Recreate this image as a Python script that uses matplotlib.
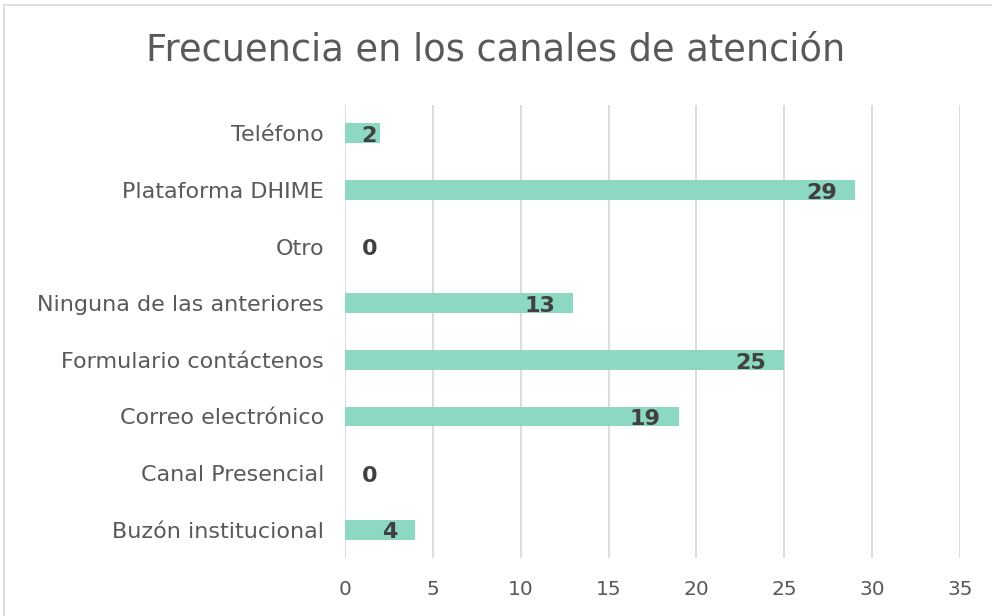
import matplotlib
matplotlib.use("Agg")
import matplotlib.pyplot as plt
from matplotlib.patches import Rectangle

categories = ["Buzón institucional", "Canal Presencial", "Correo electrónico",
              "Formulario contáctenos", "Ninguna de las anteriores", "Otro",
              "Plataforma DHIME", "Teléfono"]
values = [4, 0, 19, 25, 13, 0, 29, 2]
xticks = [0, 5, 10, 15, 20, 25, 30, 35]
title = "Frecuencia en los canales de atención"

plt.rcParams['font.family'] = ['DejaVu Sans']

W, H = 992, 616
fig = plt.figure(figsize=(W/100, H/100), dpi=100)
fig.patch.set_facecolor("white")
fig.patches.append(Rectangle((4/W, -0.1), 1.2, (H-5)/H + 0.1, transform=fig.transFigure,
                             fill=False, edgecolor="#D9D9D9", linewidth=1.2))

ax = fig.add_axes([345/W, 1-558/H, (960-345)/W, (558-105)/H])
y = range(len(categories))
ax.barh(y, values, height=0.35, color="#8DD8C2", zorder=3)
ax.set_xlim(0, 35)
ax.set_ylim(-0.5, len(categories)-0.5)
ax.set_xticks(xticks)
ax.set_yticks(list(y))
ax.set_yticklabels(categories)
ax.tick_params(axis='y', length=0, pad=15, labelsize=16, labelcolor="#595959")
ax.tick_params(axis='x', length=0, pad=16, labelsize=14.5, labelcolor="#595959")
for s in ax.spines.values():
    s.set_visible(False)
ax.grid(axis='x', color="#D9D9D9", linewidth=1.3, zorder=0)
ax.set_axisbelow(True)

for yi, v in zip(y, values):
    if v <= 2:
        ax.annotate(str(v), (0, yi), xytext=(12, -2), textcoords='offset points',
                    ha='left', va='center', fontsize=16, fontweight='bold',
                    color="#404040", zorder=4)
    else:
        ax.annotate(str(v), (v, yi), xytext=(-13, -2), textcoords='offset points',
                    ha='right', va='center', fontsize=16, fontweight='bold',
                    color="#404040", zorder=4)

fig.text(0.5, 1-50/H, title, ha='center', va='center', fontsize=26.5,
         color="#595959")

fig.savefig("out.png", dpi=100)
